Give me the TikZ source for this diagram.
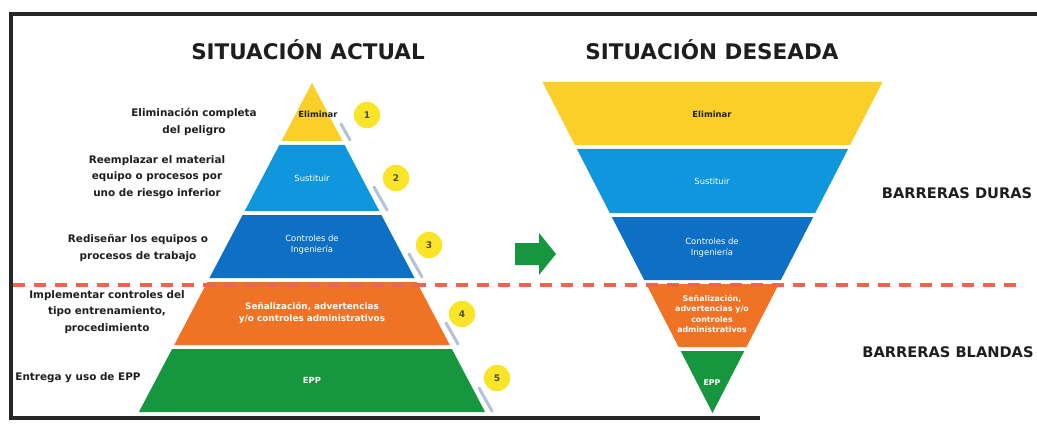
\documentclass[tikz,border=0pt]{standalone}
\usepackage{fontspec}
\setmainfont{DejaVu Sans}
\usepackage{xcolor}
\usepackage{tikz}
\usetikzlibrary{arrows.meta,positioning}
\definecolor{colamarillo}{RGB}{250,208,40}
\definecolor{colceleste}{RGB}{16,150,220}
\definecolor{colazul}{RGB}{14,112,196}
\definecolor{colnaranja}{RGB}{240,114,36}
\definecolor{colverde}{RGB}{22,150,62}
\definecolor{colnumero}{RGB}{250,228,40}
\definecolor{colcorte}{RGB}{240,100,76}
\definecolor{colsombra}{RGB}{180,196,212}
\definecolor{coltexto}{RGB}{30,30,30}

\begin{document}
\begin{tikzpicture}[
  x=0.025cm, y=-0.025cm,
  titulo/.style={font=\fontsize{15.3}{18}\selectfont\bfseries, text=coltexto},
  barrera/.style={font=\fontsize{10.4}{12}\selectfont\bfseries, text=coltexto},
  lateral/.style={font=\fontsize{7.4}{11.6}\selectfont\bfseries, text=coltexto, align=center, inner sep=0pt},
  interno/.style={font=\fontsize{6}{8}\selectfont, text=white, align=center, inner sep=0pt},
  numero/.style={circle, fill=colnumero, minimum size=0.66cm, inner sep=0pt,
                 font=\fontsize{6.5}{7}\selectfont\bfseries, text=coltexto!80},
  sombra/.style={colsombra, line width=2.2pt, line cap=round},
  marco/.style={draw=black!85, line width=3.4pt},
  corte/.style={colcorte, line width=2.2pt, dash pattern=on 8.5pt off 6.5pt}
]
  \useasboundingbox (0,0) rectangle (1037,426);

  % marco
  \draw[marco] (1037,14) -- (11,14) -- (11,418) -- (760,418);

  % piramide actual
  \fill[colamarillo] (312,83) -- (342.5,141) -- (281.5,141) -- cycle;
  \fill[colceleste] (279.4,145) -- (344.6,145) -- (379.3,211) -- (244.7,211) -- cycle;
  \fill[colazul] (242.6,215) -- (381.4,215) -- (414.6,278) -- (209.4,278) -- cycle;
  \fill[colnaranja] (207.3,282) -- (416.7,282) -- (449.8,345) -- (174.2,345) -- cycle;
  \fill[colverde] (172.1,349) -- (451.9,349) -- (485.1,412) -- (138.9,412) -- cycle;

  \draw[sombra] (341,124) -- (350,140);
  \draw[sombra] (374,187) -- (387,210);
  \draw[sombra] (409,254) -- (422,277);
  \draw[sombra] (446,323) -- (458,344);
  \draw[sombra] (479,388) -- (492,411);

  \node[interno, text=coltexto, font=\fontsize{6}{8}\selectfont\bfseries] (a1) at (318,114) {Eliminar};
  \node[interno] (a2) at (312,178) {Sustituir};
  \node[interno] (a3) at (312,245) {Controles de\\Ingeniería};
  \node[interno, font=\fontsize{6.3}{9}\selectfont\bfseries] (a4) at (312,313) {Señalización, advertencias\\y/o controles administrativos};
  \node[interno, font=\fontsize{6}{8}\selectfont\bfseries] (a5) at (312,380) {EPP};

  \node[numero] (n1) at (367,115) {1};
  \node[numero] (n2) at (396,178) {2};
  \node[numero] (n3) at (429,245) {3};
  \node[numero] (n4) at (462,314) {4};
  \node[numero] (n5) at (497,378) {5};

  \node[lateral] (l1) at (194,122) {Eliminación completa\\del peligro};
  \node[lateral] (l2) at (157,177) {Reemplazar el material\\equipo o procesos por\\uno de riesgo inferior};
  \node[lateral] (l3) at (138,248) {Rediseñar los equipos o\\procesos de trabajo};
  \node[lateral] (l4) at (107,312) {Implementar controles del\\tipo entrenamiento,\\procedimiento};
  \node[lateral] (l5) at (78,378) {Entrega y uso de EPP};

  % piramide deseada
  \fill[colamarillo] (542.5,82) -- (882.5,82) -- (850.1,145) -- (574.9,145) -- cycle;
  \fill[colceleste] (576.9,149) -- (848.1,149) -- (815.2,213) -- (609.8,213) -- cycle;
  \fill[colazul] (611.8,217) -- (813.2,217) -- (780.8,280) -- (644.2,280) -- cycle;
  \fill[colnaranja] (646.2,284) -- (778.8,284) -- (746.4,347) -- (678.6,347) -- cycle;
  \fill[colverde] (680.7,351) -- (744.3,351) -- (712.5,413) -- cycle;

  \node[interno, text=coltexto, font=\fontsize{6}{8}\selectfont\bfseries] (b1) at (712,114) {Eliminar};
  \node[interno] (b2) at (712,181) {Sustituir};
  \node[interno] (b3) at (712,248) {Controles de\\Ingeniería};
  \node[interno, font=\fontsize{5.6}{7.4}\selectfont\bfseries] (b4) at (712,314) {Señalización,\\advertencias y/o\\controles\\administrativos};
  \node[interno, font=\fontsize{5.6}{7}\selectfont\bfseries] (b5) at (712,383) {EPP};

  % titulos y barreras
  \node[titulo] (t1) at (308,50) {SITUACIÓN ACTUAL};
  \node[titulo] (t2) at (712,50) {SITUACIÓN DESEADA};
  \node[barrera] (d1) at (957,193) {BARRERAS DURAS};
  \node[barrera] (d2) at (948,352) {BARRERAS BLANDAS};

  % flecha
  \fill[colverde] (515,243) -- (539,243) -- (539,233) -- (556,254) -- (539,275)
    -- (539,265) -- (515,265) -- cycle;

  % linea de corte
  \draw[corte] (13,285) -- (1022,285);
\end{tikzpicture}
\end{document}
